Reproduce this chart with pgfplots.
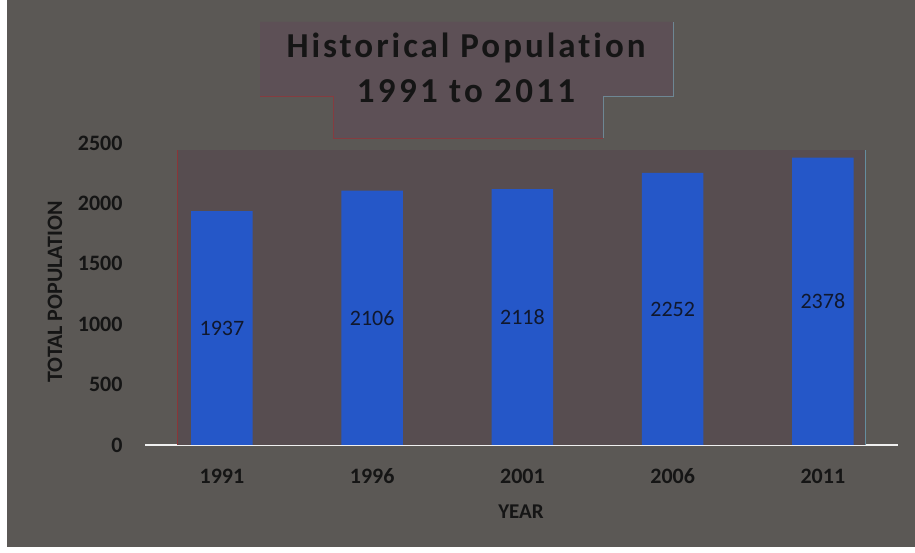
\documentclass[border=0pt]{standalone}
\usepackage{fontspec}
\setmainfont{Carlito}[Ligatures=NoCommon]
\usepackage{pgfplots}
\pgfplotsset{compat=1.18}
\definecolor{bg}{HTML}{5B5855}
\definecolor{plotbg}{HTML}{574D50}
\definecolor{titlebg}{HTML}{5D5056}
\definecolor{barblue}{HTML}{2557C8}
\definecolor{txt}{HTML}{151515}
\definecolor{lbl}{HTML}{10182E}
\begin{document}
\begin{tikzpicture}[x=1pt,y=1pt]
\useasboundingbox (0,0) rectangle (915,553);
\fill[white] (0,0) rectangle (915,553);
\fill[bg] (7,6) rectangle (915,553);
% title box
\fill[titlebg] (260,531) -- (673,531) -- (673,457) -- (603,457) -- (603,415) -- (333,415) -- (333,457) -- (260,457) -- cycle;
\draw[color=red!25!titlebg, line width=0.8pt] (260,457) -- (333,457) -- (333,415) -- (603,415);
\draw[color=cyan!30!titlebg, line width=0.8pt] (673,531) -- (673,457) -- (603,457) -- (603,415);
\node[anchor=base, text=txt, inner sep=0pt] at (466,495) {\fontsize{35}{40}\selectfont\bfseries\addfontfeatures{LetterSpace=8.5}Historical Population};
\node[anchor=base, text=txt, inner sep=0pt] at (466,450) {\fontsize{35}{40}\selectfont\bfseries\addfontfeatures{LetterSpace=9.5}1991 to 2011};
\begin{axis}[
  at={(145pt,108pt)}, anchor=south west, scale only axis,
  width=753pt, height=302pt,
  xmin=-0.512, xmax=4.5, ymin=0, ymax=2500,
  axis x line*=bottom, axis y line*=left,
  y axis line style={draw=none},
  x axis line style={draw=white!88!gray, line width=2.5pt, -},
  major tick length=0pt,
  xtick={0,1,2,3,4},
  xticklabels={1991,1996,2001,2006,2011},
  ytick={0,500,1000,1500,2000,2500},
  /pgf/number format/assume math mode=true,
  /pgf/number format/1000 sep={},
  ticklabel style={font=\fontsize{22}{24}\selectfont\bfseries, text=txt},
  yticklabel style={xshift=-19pt},
  xticklabel style={anchor=base, yshift=-39pt},
  xlabel={YEAR}, ylabel={TOTAL POPULATION},
  label style={font=\fontsize{21}{24}\selectfont\bfseries, text=txt},
  xlabel style={at={(axis description cs:0.4993,-0.222)}, anchor=center},
  ylabel style={at={(axis description cs:-0.1195,0.507)}, anchor=center, font=\fontsize{22}{24}\selectfont\bfseries},
  clip=false,
]
\fill[plotbg] (axis cs:-0.293,0) rectangle (axis cs:4.286,2442);
\draw[color=red!30!plotbg, line width=1pt] (axis cs:-0.293,0) -- (axis cs:-0.293,2442);
\draw[color=cyan!40!plotbg, line width=1pt] (axis cs:4.286,0) -- (axis cs:4.286,2442);
\addplot[ybar, fill=barblue, draw=none, bar width=0.41,
  nodes near coords,
  visualization depends on=y \as \rawy,
  every node near coord/.append style={anchor=center,
    shift={(axis direction cs:0,-\rawy/2)},
    font=\fontsize{22}{24}\selectfont, text=lbl}]
  coordinates {(0,1937) (1,2106) (2,2118) (3,2252) (4,2378)};
\end{axis}
\end{tikzpicture}
\end{document}
